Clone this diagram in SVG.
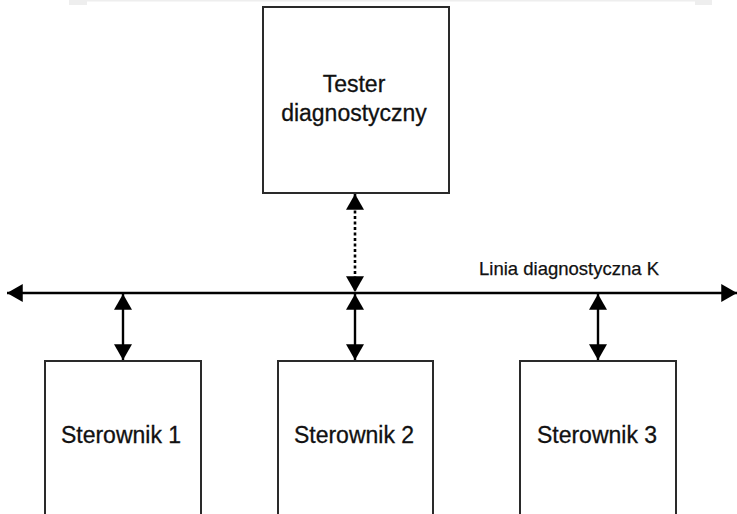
<svg xmlns="http://www.w3.org/2000/svg" width="737" height="514" viewBox="0 0 737 514">
<style>
.box{fill:#fff;stroke:#2a2a2a;stroke-width:2}
.lbl{font-family:"Liberation Sans",Arial,sans-serif;font-size:23px;fill:#111;stroke:#111;stroke-width:0.3;text-anchor:middle}
.bus{font-family:"Liberation Sans",Arial,sans-serif;font-size:18.5px;fill:#111;stroke:#111;stroke-width:0.25}
.ln{stroke:#000;stroke-width:2.4;fill:none}
.dash{stroke:#000;stroke-width:2.6;fill:none;stroke-dasharray:3 2.5}
.strip{fill:#eeeeee}
</style>
<defs>
<marker id="ah" markerUnits="userSpaceOnUse" markerWidth="16" markerHeight="18" viewBox="0 0 14 16" refX="14" refY="8" orient="auto-start-reverse">
<path d="M0,0 L14,8 L0,16 Z" fill="#000"/>
</marker>
</defs>
<rect class="strip" x="69" y="0" width="643" height="1.5"/>
<rect class="strip" x="69" y="0" width="18" height="5"/>
<rect class="strip" x="695" y="0" width="17" height="5"/>
<g id="tester">
<rect class="box" x="263" y="7" width="186" height="186"/>
<text class="lbl" x="354" y="92">Tester</text>
<text class="lbl" x="354" y="121">diagnostyczny</text>
</g>
<g id="sterownik1">
<path class="box" d="M45,520 V361 H201 V520"/>
<text class="lbl" x="121" y="443">Sterownik 1</text>
</g>
<g id="sterownik2">
<path class="box" d="M278,520 V361 H433 V520"/>
<text class="lbl" x="354" y="443">Sterownik 2</text>
</g>
<g id="sterownik3">
<path class="box" d="M520,520 V361 H676 V520"/>
<text class="lbl" x="597" y="443">Sterownik 3</text>
</g>
<g id="connectors">
<line class="ln" x1="7" y1="293" x2="737" y2="293" marker-start="url(#ah)" marker-end="url(#ah)"/>
<text class="bus" x="479" y="275">Linia diagnostyczna K</text>
<line class="dash" x1="355" y1="194" x2="355" y2="292" marker-start="url(#ah)" marker-end="url(#ah)"/>
<line class="ln" x1="123" y1="294" x2="123" y2="360" marker-start="url(#ah)" marker-end="url(#ah)"/>
<line class="ln" x1="355" y1="294" x2="355" y2="360" marker-start="url(#ah)" marker-end="url(#ah)"/>
<line class="ln" x1="598" y1="294" x2="598" y2="360" marker-start="url(#ah)" marker-end="url(#ah)"/>
</g>
</svg>
